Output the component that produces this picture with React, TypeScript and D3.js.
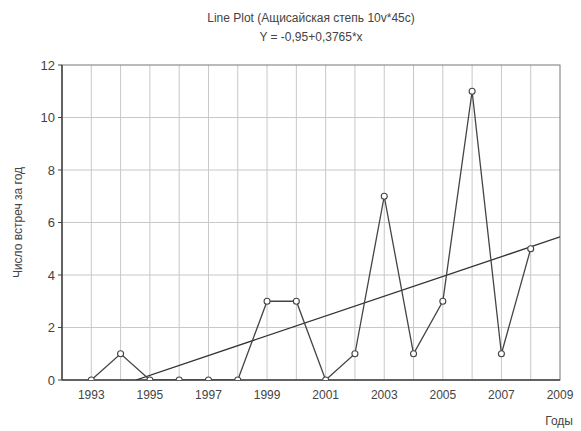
import React from "react";
import * as d3 from "d3";

const years = [1993, 1994, 1995, 1996, 1997, 1998, 1999, 2000, 2001, 2002, 2003, 2004, 2005, 2006, 2007, 2008];
const counts = [0, 1, 0, 0, 0, 0, 3, 3, 0, 1, 7, 1, 3, 11, 1, 5];
const xTicks = [1993, 1995, 1997, 1999, 2001, 2003, 2005, 2007, 2009];
const yTicks = [0, 2, 4, 6, 8, 10, 12];
const intercept = -0.95;
const slope = 0.3765;
const baseYear = 1992;

export default function App() {
  const W = 581, H = 431;
  const m = { left: 62, right: 21, top: 65, bottom: 51 };
  const x = d3.scaleLinear().domain([1992, 2009]).range([m.left, W - m.right]);
  const y = d3.scaleLinear().domain([0, 12]).range([H - m.bottom, m.top]);
  const line = d3.line<number>().x((_, i) => x(years[i])).y((d) => y(d));
  const fit = (yr: number) => intercept + slope * (yr - baseYear);
  const x0 = baseYear - intercept / slope;
  const gridYears = d3.range(1993, 2009);
  const font = "'Liberation Sans', Arial, sans-serif";
  const txt = "#444";
  return (
    <svg width={W} height={H} style={{ position: "absolute", left: 0, top: 0 }} fontFamily={font}>
      <rect width={W} height={H} fill="#fff" />
      <defs>
        <clipPath id="pa">
          <rect x={m.left} y={m.top} width={W - m.left - m.right} height={H - m.top - m.bottom} />
        </clipPath>
      </defs>
      {gridYears.map((g) => (
        <line key={"gx" + g} x1={x(g)} x2={x(g)} y1={y(0)} y2={y(12)} stroke="#c8c8c8" strokeWidth={1} />
      ))}
      {yTicks.slice(1, -1).map((t) => (
        <line key={"gy" + t} x1={x(1992)} x2={x(2009)} y1={y(t)} y2={y(t)} stroke="#c8c8c8" strokeWidth={1} />
      ))}
      <rect x={m.left} y={m.top} width={W - m.left - m.right} height={H - m.top - m.bottom} fill="none" stroke="#777" strokeWidth={1} />
      <line x1={m.left} x2={m.left} y1={m.top} y2={H - m.bottom} stroke="#444" strokeWidth={1.5} />
      <line x1={m.left} x2={W - m.right} y1={H - m.bottom} y2={H - m.bottom} stroke="#444" strokeWidth={1.5} />
      {yTicks.map((t) => (
        <g key={"yt" + t}>
          <line x1={m.left - 4} x2={m.left} y1={y(t)} y2={y(t)} stroke="#444" />
          <text x={m.left - 7} y={y(t)} dy="0.36em" textAnchor="end" fontSize={13} fill={txt}>{t}</text>
        </g>
      ))}
      {xTicks.map((t) => (
        <text key={"xt" + t} x={x(t)} y={y(0) + 19} textAnchor="middle" fontSize={12} fill={txt}>{t}</text>
      ))}
      <g clipPath="url(#pa)">
        <line x1={x(x0)} y1={y(0)} x2={x(2009)} y2={y(fit(2009))} stroke="#333" strokeWidth={1.3} />
        <path d={line(counts) || ""} fill="none" stroke="#444" strokeWidth={1.3} />
        {counts.map((c, i) => (
          <circle key={"p" + i} cx={x(years[i])} cy={y(c)} r={3} fill="#fff" stroke="#444" strokeWidth={1.1} />
        ))}
      </g>
      <text x={311} y={22} textAnchor="middle" fontSize={12} fill={txt}>Line Plot (Ащисайская степь 10v*45c)</text>
      <text x={311} y={41} textAnchor="middle" fontSize={12} fill={txt}>Y = -0,95+0,3765*x</text>
      <text transform={`translate(22,${(m.top + H - m.bottom) / 2}) rotate(-90)`} textAnchor="middle" fontSize={12} fill={txt}>Число встреч за год</text>
      <text x={W - 8} y={425} textAnchor="end" fontSize={12} fill={txt}>Годы</text>
    </svg>
  );
}
